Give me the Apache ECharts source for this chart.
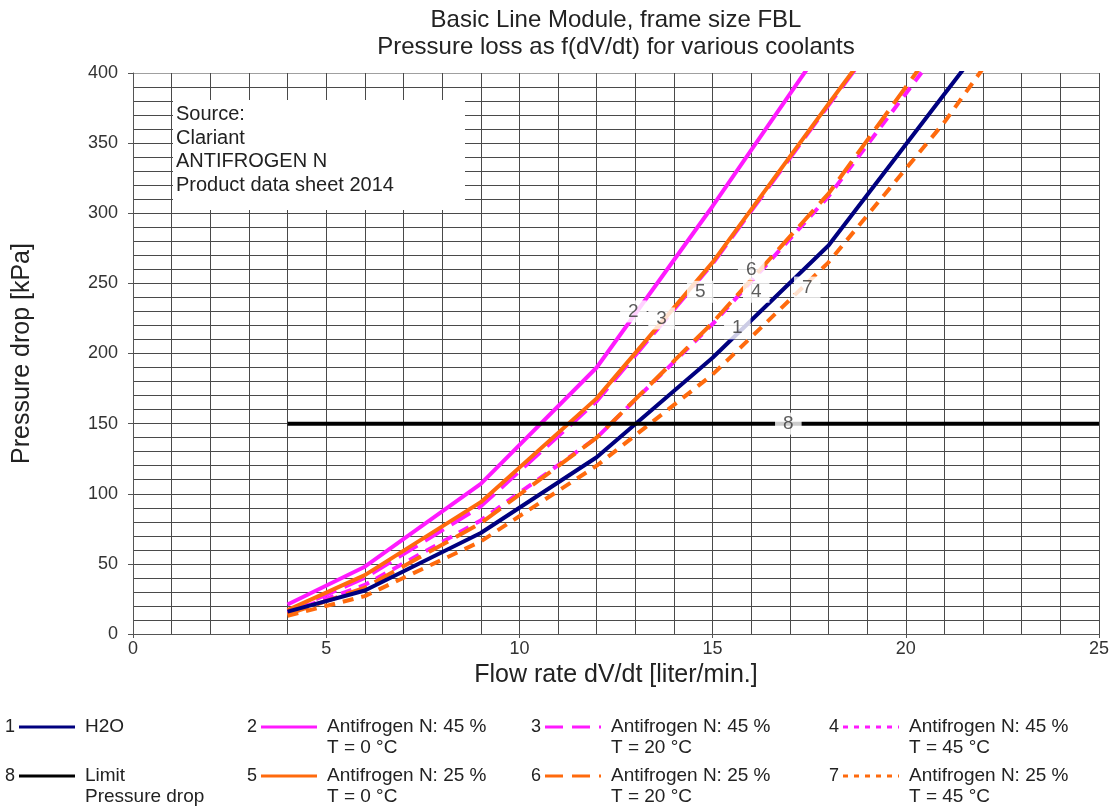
<!DOCTYPE html>
<html>
<head>
<meta charset="utf-8">
<script src="https://cdn.jsdelivr.net/npm/echarts@6/dist/echarts.min.js"></script>
<style>
  html, body { margin: 0; padding: 0; background: #fff; }
  #chart { width: 1112px; height: 812px; }
</style>
</head>
<body>
<div id="chart"></div>
<script>
// ---- Data ----
const xFlow = [4, 6, 9, 12, 15, 18, 21, 24];
const h2o      = [16, 31, 72, 126, 197, 277, 385, 493];   // 1
const af45_0   = [21, 48, 107, 190, 305, 425];            // 2
const af45_20  = [16, 40, 91, 166, 264, 377, 488];        // 3
const af45_45  = [15, 35, 81, 140, 221, 312, 422];        // 4
const af25_0   = [17, 42, 94, 168, 265, 378, 489];        // 5
const af25_20  = [14, 33, 79, 140, 222, 314, 428];        // 6
const af25_45  = [13, 27, 66, 120, 185, 265, 365, 480];   // 7
const limitX = [4, 25];
const limitY = [150, 150];                                 // 8

const xTicks = [0, 5, 10, 15, 20, 25];
const yTicks = [0, 50, 100, 150, 200, 250, 300, 350, 400];

const curveNumbers = ['1', '2', '3', '4', '5', '6', '7', '8'];
const labelX = [15.64, 12.95, 13.68, 16.13, 14.68, 16.0, 17.45, 16.96];
const labelY = [218, 230, 225, 244, 244, 260, 247, 150];

const legendNames = ['H2O', 'Antifrogen N: 45 %\nT = 0 °C', 'Antifrogen N: 45 %\nT = 20 °C',
  'Antifrogen N: 45 %\nT = 45 °C', 'Antifrogen N: 25 %\nT = 0 °C', 'Antifrogen N: 25 %\nT = 20 °C',
  'Antifrogen N: 25 %\nT = 45 °C', 'Limit\nPressure drop'];

const sourceLines = ['Source:', 'Clariant', 'ANTIFROGEN N', 'Product data sheet 2014'];

// ---- Styles ----
const NAVY = '#00007f', MAG = '#ff1aff', ORG = '#ff6a0d', BLK = '#000000';
const LONG_DASH = [22, 9], SHORT_DASH = [11, 8];
const styles = [
  { c: NAVY, t: 'solid' },
  { c: MAG, t: 'solid' },
  { c: MAG, t: LONG_DASH },
  { c: MAG, t: SHORT_DASH },
  { c: ORG, t: 'solid' },
  { c: ORG, t: LONG_DASH },
  { c: ORG, t: SHORT_DASH },
  { c: BLK, t: 'solid' }
];
const seriesData = [h2o, af45_0, af45_20, af45_45, af25_0, af25_20, af25_45];
const zOrder = [6, 5, 3, 3, 4, 4, 3];

const FONT = 'Liberation Sans, Arial, sans-serif';
const chart = echarts.init(document.getElementById('chart'), null, { renderer: 'canvas' });

const series = [];
seriesData.forEach((arr, i) => {
  series.push({
    type: 'line',
    name: curveNumbers[i],
    data: arr.map((v, k) => [xFlow[k], v]),
    symbol: 'none',
    clip: true,
    z: zOrder[i],
    lineStyle: { color: styles[i].c, width: 4, type: styles[i].t, cap: 'butt' },
    silent: true
  });
});
series.push({
  type: 'line', name: '8',
  data: limitX.map((x, k) => [x, limitY[k]]),
  symbol: 'none', z: 7,
  lineStyle: { color: BLK, width: 4 }, silent: true
});
series.push({
  type: 'scatter', name: 'labels',
  data: labelX.map((x, k) => ({ value: [x, labelY[k]], label: { formatter: curveNumbers[k] } })),
  symbolSize: 0, z: 10, silent: true,
  label: {
    show: true, position: 'inside', color: '#333', fontSize: 19, fontFamily: FONT,
    backgroundColor: '#fff', padding: [2, 8, 1, 8]
  }
});

// ---- Legend as graphic ----
const legendPos = [
  [5, 727], [247, 727], [531, 727], [829, 727],
  [247, 776], [531, 776], [829, 776], [5, 776]
];
const LH = 21;
const graphics = [];
legendPos.forEach((p, i) => {
  const [x, y] = p;
  const st = styles[i];
  graphics.push({ type: 'text', x: x, y: y, style: { text: curveNumbers[i], fontSize: 18, fontFamily: FONT, fill: '#222', textVerticalAlign: 'middle' } });
  graphics.push({
    type: 'line', shape: { x1: x + 14, y1: y, x2: x + 70, y2: y },
    style: { stroke: st.c, lineWidth: 3, lineDash: Array.isArray(st.t) ? (st.t === LONG_DASH ? [18, 9] : [5, 6]) : null }
  });
  graphics.push({ type: 'text', x: x + 80, y: y - LH / 2, style: { text: legendNames[i], fontSize: 19, lineHeight: LH, fontFamily: FONT, fill: '#222' } });
});
// Title
graphics.push({ type: 'text', x: 616, y: 8, style: { text: 'Basic Line Module, frame size FBL', textAlign: 'center', fontSize: 24, fontFamily: FONT, fill: '#222' } });
graphics.push({ type: 'text', x: 616, y: 35, style: { text: 'Pressure loss as f(dV/dt) for various coolants', textAlign: 'center', fontSize: 24, fontFamily: FONT, fill: '#222' } });
// Source box
graphics.push({ type: 'rect', shape: { x: 173, y: 100, width: 292, height: 110 }, style: { fill: '#fff' }, z: 2 });
graphics.push({ type: 'text', x: 176, y: 103, z: 3, style: { text: sourceLines.join('\n'), fontSize: 20, lineHeight: 23.5, fontFamily: FONT, fill: '#222' } });

const GRID = '#4a4a4a';
const option = {
  backgroundColor: '#fff',
  animation: false,
  grid: { left: 133, right: 12, top: 73, bottom: 178, containLabel: false },
  xAxis: {
    type: 'value', min: xTicks[0], max: xTicks[xTicks.length - 1], interval: 5,
    name: 'Flow rate dV/dt [liter/min.]', nameLocation: 'middle', nameGap: 17,
    nameTextStyle: { fontSize: 25, fontFamily: FONT, color: '#222' },
    axisLine: { show: true, lineStyle: { color: '#555', width: 1 } },
    axisTick: { show: true, length: 4, lineStyle: { color: '#555' } },
    axisLabel: { fontSize: 18, fontFamily: FONT, color: '#333', margin: 6 },
    splitLine: { show: true, lineStyle: { color: GRID, width: 1 } },
    minorTick: { show: false, splitNumber: 5 },
    minorSplitLine: { show: true, lineStyle: { color: GRID, width: 1 } }
  },
  yAxis: {
    type: 'value', min: yTicks[0], max: yTicks[yTicks.length - 1], interval: 50,
    name: 'Pressure drop [kPa]', nameLocation: 'middle', nameGap: 98,
    nameTextStyle: { fontSize: 25, fontFamily: FONT, color: '#222' },
    axisLine: { show: true, lineStyle: { color: '#555', width: 1 } },
    axisTick: { show: true, length: 5, lineStyle: { color: '#555' } },
    axisLabel: { fontSize: 18, fontFamily: FONT, color: '#333', margin: 15 },
    splitLine: { show: true, lineStyle: { color: [GRID, GRID, GRID, GRID, GRID, GRID, GRID, GRID, '#a0a0a0'], width: 1 } },
    minorTick: { show: false, splitNumber: 5 },
    minorSplitLine: { show: true, lineStyle: { color: GRID, width: 1 } }
  },
  series: series,
  graphic: graphics
};
chart.setOption(option);
</script>
</body>
</html>
